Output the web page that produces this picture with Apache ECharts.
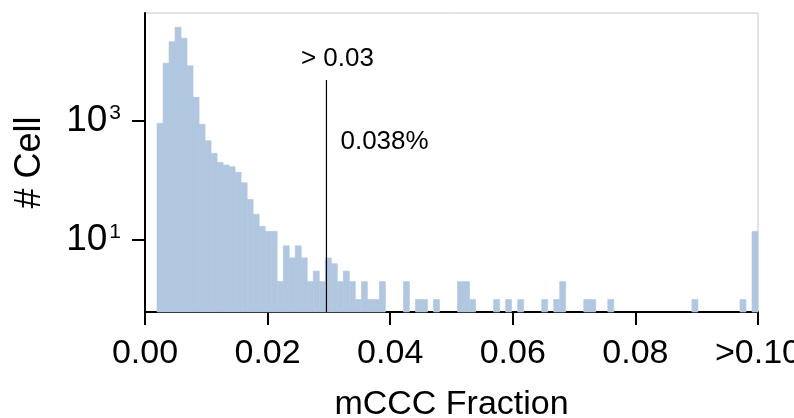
<!DOCTYPE html>
<html><head><meta charset="utf-8">
<script src="https://cdn.jsdelivr.net/npm/echarts@6/dist/echarts.min.js"></script>
<style>html,body{margin:0;padding:0;background:#fff}#c{width:794px;height:418px}</style>
</head><body><div id="c"></div>
<script>
// histogram counts, 100 bins spanning binRange (last bin = overflow ">0.10")
var binCounts = [
  914, 9330, 21500, 37600, 24500, 8490, 2500, 880, 467, 287,
  202, 182, 171, 137, 92, 48, 27, 17, 14, 14,
  2, 8, 5, 8, 5, 2, 3, 2, 5, 4,
  2, 3, 2, 1, 2, 1, 1, 2, 0, 0,
  0, 2, 0, 1, 1, 0, 1, 0, 0, 0,
  2, 2, 1, 0, 0, 0, 1, 0, 1, 0,
  1, 0, 0, 0, 1, 0, 1, 2, 0, 0,
  0, 1, 1, 0, 0, 1, 0, 0, 0, 0,
  0, 0, 0, 0, 0, 0, 0, 0, 0, 1,
  0, 0, 0, 0, 0, 0, 0, 1, 0, 14
];
var binRange = [0.00196, 0.1];
var xTickValues = [0, 0.02, 0.04, 0.06, 0.08, 0.1];
var xTickLabels = ['0.00', '0.02', '0.04', '0.06', '0.08', '>0.10'];
var yTickValues = [10, 1000];
var yRange = [0.6166, 65310];
var threshold = 0.0296;
var thresholdTop = 4900;
var thresholdLabel = '> 0.03';
var fractionLabel = '0.038%';
var fractionLabelY = 440;

var FONT = "'Liberation Sans', Arial, Helvetica, sans-serif";
var BAR = '#b0c7df';

var nBins = binCounts.length;
var bw = (binRange[1] - binRange[0]) / nBins;
var histData = [];
binCounts.forEach(function (c, i) {
  if (c > 0) histData.push([binRange[0] + i * bw, binRange[0] + (i + 1) * bw, c]);
});

var chart = echarts.init(document.getElementById('c'), null, {renderer: 'canvas'});
chart.setOption({
  animation: false,
  backgroundColor: '#fff',
  grid: {left: 145, right: 36, top: 13, bottom: 106, show: true, borderColor: '#c8c8c8', borderWidth: 1,
         backgroundColor: 'transparent', containLabel: false, outerBoundsMode: 'none'},
  xAxis: {
    type: 'value', min: 0, max: 0.1, interval: 0.02,
    name: 'mCCC Fraction', nameLocation: 'middle', nameGap: 76,
    nameTextStyle: {fontFamily: FONT, fontSize: 34, color: '#000'},
    axisLine: {lineStyle: {color: '#000', width: 2}},
    axisTick: {show: true, length: 13, lineStyle: {color: '#000', width: 2}},
    axisLabel: {
      fontFamily: FONT, fontSize: 34, color: '#000', margin: 25, showMaxLabel: true, hideOverlap: false,
      formatter: function (v) {
        for (var i = 0; i < xTickValues.length; i++) if (Math.abs(v - xTickValues[i]) < 1e-9) return xTickLabels[i];
        return '';
      }
    },
    splitLine: {show: false}
  },
  yAxis: {
    type: 'log', logBase: 10, min: yRange[0], max: yRange[1],
    name: '# Cell', nameLocation: 'middle', nameGap: 97,
    nameTextStyle: {fontFamily: FONT, fontSize: 36, color: '#000'},
    axisLine: {show: true, lineStyle: {color: '#000', width: 2}},
    axisTick: {show: true, length: 13, lineStyle: {color: '#000', width: 2}, customValues: yTickValues},
    axisLabel: {
      customValues: yTickValues, margin: 24,
      formatter: function (v) { return '{b|10}{s|' + Math.round(Math.log10(v)) + '}'; },
      rich: {
        b: {fontFamily: FONT, fontSize: 37, color: '#000'},
        s: {fontFamily: FONT, fontSize: 21, color: '#000', verticalAlign: 'top', padding: [0, 0, 0, 2]}
      }
    },
    splitLine: {show: false}, minorTick: {show: false}
  },
  series: [
    {
      type: 'custom',
      data: histData,
      encode: {x: [0, 1], y: 2},
      renderItem: function (params, api) {
        var p0 = api.coord([api.value(0), api.value(2)]);
        var p1 = api.coord([api.value(1), yRange[0]]);
        return {type: 'rect', shape: {x: p0[0], y: p0[1], width: p1[0] - p0[0], height: p1[1] - p0[1]},
                style: {fill: BAR, stroke: BAR, lineWidth: 0.6}};
      },
      z: 1
    },
    {
      type: 'line',
      data: [[threshold, thresholdTop], [threshold, yRange[0]]],
      symbol: 'none', lineStyle: {color: '#000', width: 1.2}, z: 3, silent: true
    },
    {
      type: 'scatter', symbolSize: 0, silent: true, z: 4,
      itemStyle: {opacity: 1, color: '#000'},
      data: [
        {value: [threshold, thresholdTop], label: {show: true, position: 'top', distance: 8, offset: [11, 0], formatter: thresholdLabel, color: '#000', opacity: 1, fontFamily: FONT, fontSize: 26}},
        {value: [threshold, fractionLabelY], label: {show: true, position: 'right', distance: 14, formatter: fractionLabel, color: '#000', opacity: 1, fontFamily: FONT, fontSize: 26}}
      ]
    }
  ]
});
</script></body></html>
